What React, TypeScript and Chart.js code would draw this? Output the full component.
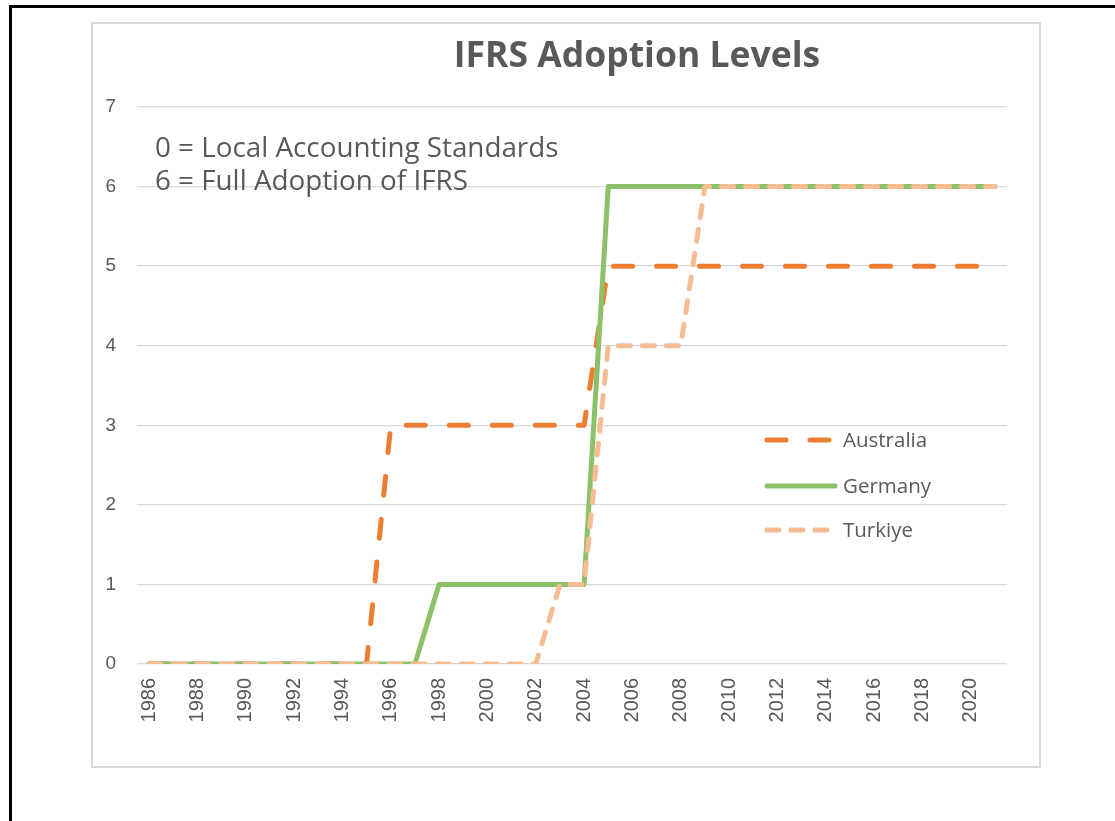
import React, { useEffect, useRef } from "react";
import { Chart, registerables } from "chart.js";

Chart.register(...registerables);

const years = [
  "1986", "1987", "1988", "1989", "1990", "1991", "1992", "1993", "1994", "1995",
  "1996", "1997", "1998", "1999", "2000", "2001", "2002", "2003", "2004", "2005",
  "2006", "2007", "2008", "2009", "2010", "2011", "2012", "2013", "2014", "2015",
  "2016", "2017", "2018", "2019", "2020", "2021",
];

const australia = [
  0, 0, 0, 0, 0, 0, 0, 0, 0, 0,
  3, 3, 3, 3, 3, 3, 3, 3, 3, 5,
  5, 5, 5, 5, 5, 5, 5, 5, 5, 5,
  5, 5, 5, 5, 5, 5,
];

const germany = [
  0, 0, 0, 0, 0, 0, 0, 0, 0, 0,
  0, 0, 1, 1, 1, 1, 1, 1, 1, 6,
  6, 6, 6, 6, 6, 6, 6, 6, 6, 6,
  6, 6, 6, 6, 6, 6,
];

const turkiye = [
  0, 0, 0, 0, 0, 0, 0, 0, 0, 0,
  0, 0, 0, 0, 0, 0, 0, 1, 1, 4,
  4, 4, 4, 6, 6, 6, 6, 6, 6, 6,
  6, 6, 6, 6, 6, 6,
];

const yTicks = [0, 1, 2, 3, 4, 5, 6, 7];

const chartTitle = "IFRS Adoption Levels";
const noteLines = ["0 = Local Accounting Standards", "6 = Full Adoption of IFRS"];

const TEXT = "#595959";
const GRID = "#D9D9D9";
const ORANGE = "#ED7D31";
const GREEN = "#8CC168";
const PEACH = "#F6BC94";
const SANS = "'Open Sans', 'Liberation Sans', sans-serif";
const TICKFONT = "'Liberation Sans', Arial, sans-serif";

const seriesStyles = [
  { label: "Australia", data: australia, color: ORANGE, dash: [19, 24], order: 2 },
  { label: "Germany", data: germany, color: GREEN, dash: [], order: 1 },
  { label: "Turkiye", data: turkiye, color: PEACH, dash: [12, 12], order: 0 },
];

const overlayPlugin = {
  id: "overlay",
  afterDraw(chart: any) {
    const ctx = chart.ctx;
    ctx.save();
    // title
    ctx.fillStyle = TEXT;
    ctx.font = `bold 35.5px ${SANS}`;
    ctx.textAlign = "center";
    ctx.textBaseline = "alphabetic";
    ctx.fillText(chartTitle, 544, 43);
    // note
    ctx.font = `27.8px ${SANS}`;
    ctx.textAlign = "left";
    ctx.fillText(noteLines[0], 62, 133);
    ctx.fillText(noteLines[1], 62, 166);
    // legend
    const rows = [416, 462, 506];
    const textBase = [423, 469, 513];
    seriesStyles.forEach((s, i) => {
      ctx.beginPath();
      ctx.strokeStyle = s.color;
      ctx.lineWidth = 5;
      ctx.lineCap = "round";
      ctx.setLineDash(s.dash);
      ctx.moveTo(674, rows[i]);
      ctx.lineTo(742, rows[i]);
      ctx.stroke();
      ctx.setLineDash([]);
      ctx.fillStyle = TEXT;
      ctx.font = `20.5px ${SANS}`;
      ctx.textAlign = "left";
      ctx.fillText(s.label, 750, textBase[i]);
    });
    ctx.restore();
  },
};

export default function App() {
  const ref = useRef<HTMLCanvasElement>(null);

  useEffect(() => {
    if (!ref.current) return;
    const chart = new Chart(ref.current, {
      type: "line",
      data: {
        labels: years,
        datasets: seriesStyles.map((s) => ({
          label: s.label,
          data: s.data,
          borderColor: s.color,
          backgroundColor: s.color,
          borderWidth: 5,
          borderDash: s.dash,
          borderCapStyle: "round",
          borderJoinStyle: "round",
          pointRadius: 0,
          tension: 0,
          fill: false,
          order: s.order,
        })),
      },
      options: {
        responsive: false,
        animation: false,
        devicePixelRatio: 1,
        layout: { padding: { top: 83, right: 32, left: 0, bottom: 0 } },
        plugins: {
          legend: { display: false },
          title: { display: false },
          tooltip: { enabled: false },
        },
        scales: {
          x: {
            type: "category",
            offset: true,
            grid: { display: false, drawTicks: false },
            border: { display: false },
            ticks: {
              autoSkip: false,
              maxRotation: 90,
              minRotation: 90,
              padding: 14,
              color: TEXT,
              font: { family: TICKFONT, size: 20 },
              callback: (_v: any, i: number) => (i % 2 === 0 ? years[i] : ""),
            },
            afterFit: (scale: any) => {
              scale.height = 102;
            },
          },
          y: {
            min: 0,
            max: 7,
            afterBuildTicks: (scale: any) => {
              scale.ticks = yTicks.map((v) => ({ value: v }));
            },
            grid: { color: GRID, lineWidth: 1.3, drawTicks: false },
            border: { display: false },
            ticks: {
              padding: 21,
              color: TEXT,
              font: { family: TICKFONT, size: 19 },
            },
            afterFit: (scale: any) => {
              scale.width = 44;
            },
          },
        },
      },
      plugins: [overlayPlugin],
    });
    return () => chart.destroy();
  }, []);

  return (
    <div style={{ position: "absolute", left: 0, top: 0, width: 1115, height: 821, background: "#fff", overflow: "hidden" }}>
      <div style={{ position: "absolute", left: 9, top: 5, width: 1106, height: 3, background: "#000" }} />
      <div style={{ position: "absolute", left: 9, top: 5, width: 3, height: 816, background: "#000" }} />
      <div
        style={{
          position: "absolute",
          left: 91,
          top: 22,
          width: 950,
          height: 746,
          border: "2px solid #D9D9D9",
          boxSizing: "border-box",
        }}
      />
      <canvas ref={ref} width={946} height={742} style={{ position: "absolute", left: 93, top: 24, width: 946, height: 742 }} />
    </div>
  );
}
